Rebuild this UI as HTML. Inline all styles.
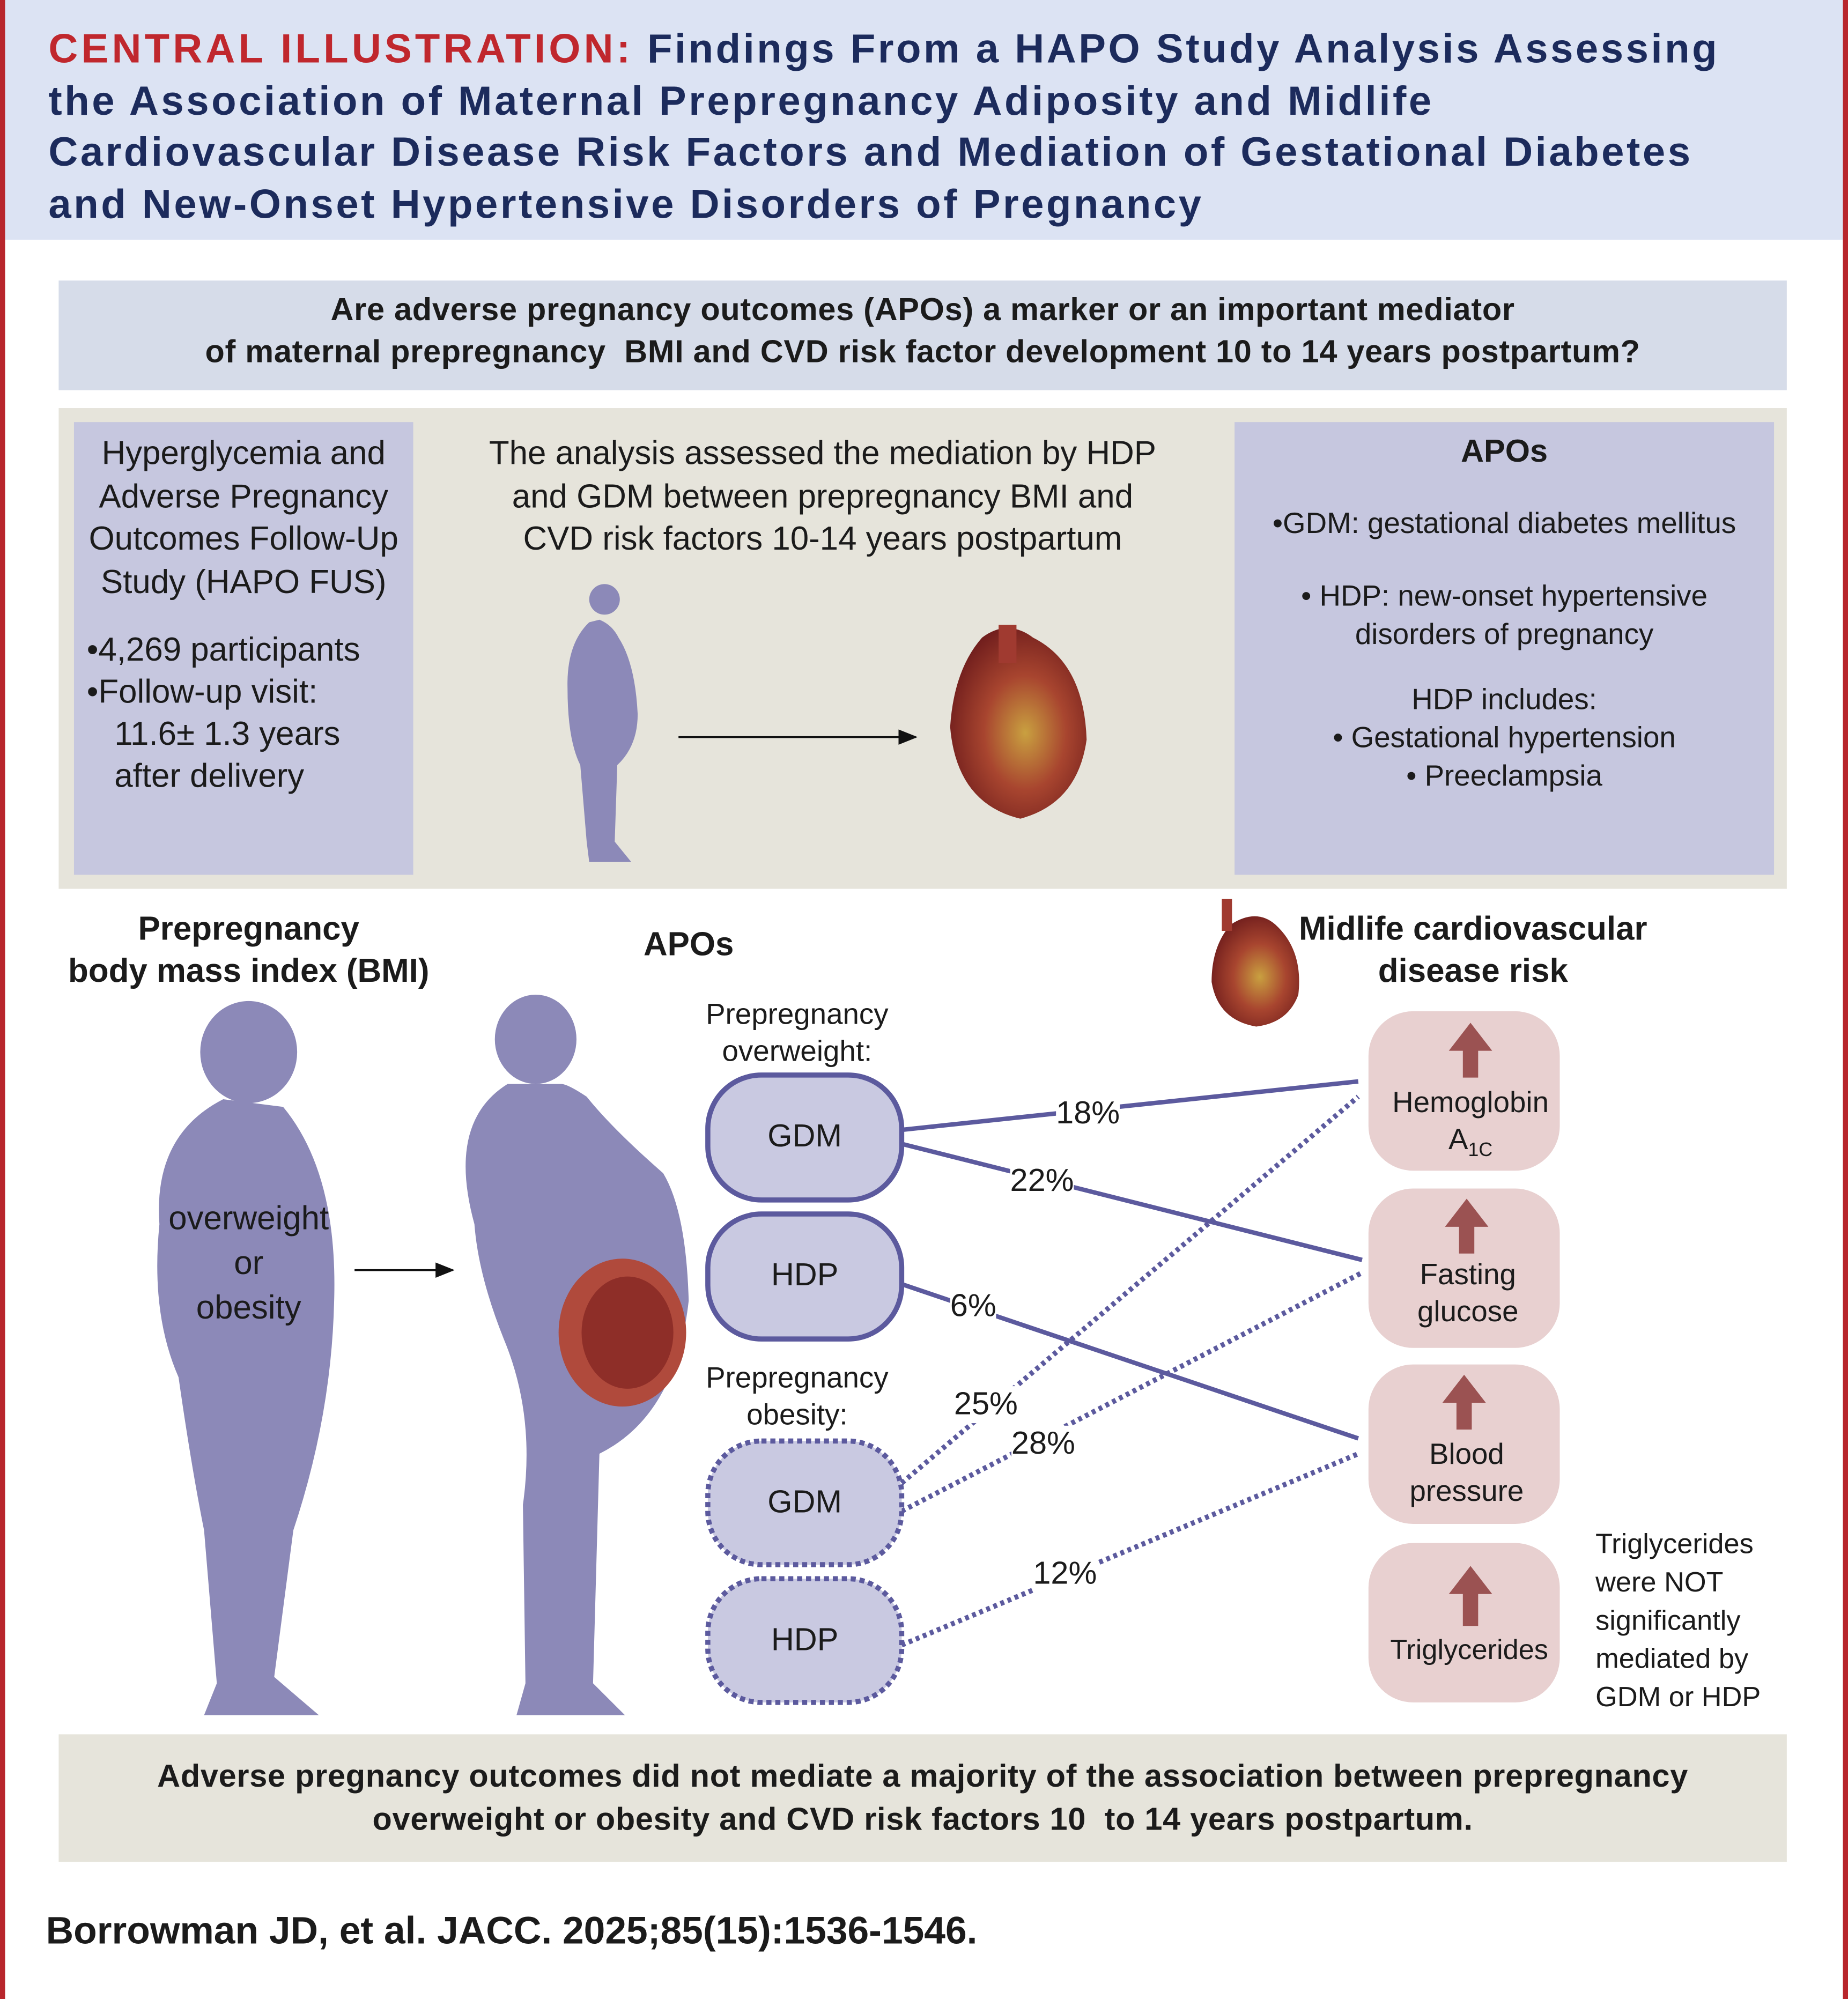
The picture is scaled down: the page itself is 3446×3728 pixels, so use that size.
<!DOCTYPE html>
<html><head><meta charset="utf-8"><style>
html,body{margin:0;padding:0;background:#fff;}
#wrap{width:3446px;height:3728px;overflow:hidden;position:relative;}
#c{position:absolute;left:0;top:0;width:1449px;height:1568px;transform:scale(2.3782);transform-origin:0 0;font-family:"Liberation Sans",sans-serif;color:#1b1b1b;}
.a{position:absolute;}
.t{position:absolute;text-align:center;}
</style></head><body><div id="wrap"><div id="c">
<div class="a" style="left:0;top:0;width:1449px;height:1568px;box-sizing:border-box;border-left:4px solid #b8262c;border-right:4px solid #b8262c;"></div>
<div class="a" style="left:4px;top:0;width:1441px;height:188px;background:#dce3f3;"></div>
<div class="a" style="left:38px;top:18px;width:1420px;white-space:nowrap;font-weight:bold;font-size:32px;line-height:40.5px;color:#1c2b5c;letter-spacing:1.9px;"><span style="color:#c0272d;letter-spacing:2.6px">CENTRAL ILLUSTRATION:</span> Findings From a HAPO Study Analysis Assessing<br>the Association of Maternal Prepregnancy Adiposity and Midlife<br>Cardiovascular Disease Risk Factors and Mediation of Gestational Diabetes<br>and New-Onset Hypertensive Disorders of Pregnancy</div>

<div class="a" style="left:46px;top:220px;width:1355px;height:86px;background:#d6dce9;"></div>
<div class="t" style="left:46px;top:227px;width:1355px;font-size:25px;font-weight:bold;line-height:33px;letter-spacing:0.3px;">Are adverse pregnancy outcomes (APOs) a marker or an important mediator<br>of maternal prepregnancy&nbsp; BMI and CVD risk factor development 10 to 14 years postpartum?</div>

<div class="a" style="left:46px;top:320px;width:1355px;height:377px;background:#e6e4db;"></div>
<div class="a" style="left:58px;top:331px;width:266px;height:355px;background:#c6c7df;"></div>
<div class="t" style="left:58px;top:339px;width:266px;font-size:26px;line-height:33.5px;">Hyperglycemia and Adverse Pregnancy Outcomes Follow-Up Study (HAPO FUS)</div>
<div class="a" style="left:68px;top:493px;width:256px;font-size:26px;line-height:33px;">•4,269 participants<br>•Follow-up visit:<br>&nbsp;&nbsp;&nbsp;11.6± 1.3 years<br>&nbsp;&nbsp;&nbsp;after delivery</div>
<div class="t" style="left:340px;top:339px;width:610px;font-size:26px;line-height:33.5px;">The analysis assessed the mediation by HDP<br>and GDM between prepregnancy BMI and<br>CVD risk factors 10-14 years postpartum</div>
<div class="a" style="left:968px;top:331px;width:423px;height:355px;background:#c6c7df;"></div>
<div class="t" style="left:968px;top:340px;width:423px;font-size:25px;font-weight:bold;">APOs</div>
<div class="t" style="left:968px;top:395px;width:423px;font-size:23px;line-height:30px;">•GDM: gestational diabetes mellitus</div>
<div class="t" style="left:968px;top:452px;width:423px;font-size:23px;line-height:30px;">• HDP: new-onset hypertensive<br>disorders of pregnancy</div>
<div class="t" style="left:968px;top:533px;width:423px;font-size:23px;line-height:30px;">HDP includes:<br>• Gestational hypertension<br>• Preeclampsia</div>

<svg class="a" style="left:0;top:0" width="1449" height="1568">
<defs>
<radialGradient id="h" cx="0.55" cy="0.55" r="0.6"><stop offset="0" stop-color="#c9a040"/><stop offset="0.5" stop-color="#a8452f"/><stop offset="1" stop-color="#6e1c1c"/></radialGradient>
<marker id="ar" markerWidth="10" markerHeight="8" refX="9" refY="4" orient="auto"><path d="M0,0 L10,4 L0,8z" fill="#111"/></marker>
</defs>
<g fill="#8c89b8">
<circle cx="474" cy="470" r="12"/>
<path d="M462,488 Q444,505 445,540 Q445,580 455,600 L460,660 L462,676 L495,676 L482,660 L484,600 Q500,585 500,560 Q498,520 485,500 Q480,490 470,486z"/>
</g>
<line x1="532" y1="578" x2="718" y2="578" stroke="#111" stroke-width="1.5" marker-end="url(#ar)"/>
<path d="M770,500 Q790,485 810,500 Q850,520 852,580 Q845,630 800,642 Q750,630 745,570 Q748,525 770,500z" fill="url(#h)"/>
<rect x="783" y="490" width="14" height="30" fill="#a03a30"/>
<g fill="#8c89b8">
<ellipse cx="195" cy="825" rx="38" ry="40"/>
<path d="M175,862 Q120,890 125,960 Q118,1030 140,1080 Q150,1150 160,1200 L170,1320 L160,1345 L250,1345 L215,1315 L230,1200 Q260,1110 262,1020 Q265,920 222,868z"/>
<ellipse cx="420" cy="815" rx="32" ry="35"/>
<path d="M398,850 Q350,880 372,960 Q375,1000 395,1050 Q420,1110 410,1180 L412,1320 L405,1345 L490,1345 L465,1320 L470,1140 Q530,1110 540,1020 Q538,950 520,920 Q480,885 460,860 Q445,850 440,850z"/>
</g>
<ellipse cx="488" cy="1045" rx="50" ry="58" fill="#b04a3c"/>
<ellipse cx="492" cy="1045" rx="36" ry="44" fill="#8e2e28"/>
<line x1="278" y1="996" x2="355" y2="996" stroke="#111" stroke-width="1.5" marker-end="url(#ar)"/>
<path d="M965,725 Q985,712 1000,725 Q1022,745 1018,780 Q1010,802 985,805 Q955,800 950,770 Q950,742 965,725z" fill="url(#h)"/>
<rect x="958" y="705" width="8" height="25" fill="#a03a30"/>
<g stroke="#5c5a9e" stroke-width="3.5" fill="none">
<line x1="707" y1="886" x2="1065" y2="848"/>
<line x1="707" y1="897" x2="1068" y2="988"/>
<line x1="707" y1="1007" x2="1065" y2="1128"/>
</g>
<g stroke="#5c5a9e" stroke-width="4" fill="none" stroke-dasharray="3,3">
<line x1="707" y1="1163" x2="1065" y2="860"/>
<line x1="707" y1="1185" x2="1068" y2="998"/>
<line x1="707" y1="1290" x2="1065" y2="1140"/>
</g>
<g fill="#c9c9e1" stroke="#5c5a9e" stroke-width="4">
<rect x="555" y="843" width="152" height="98" rx="42"/>
<rect x="555" y="952" width="152" height="98" rx="42"/>
</g>
<g fill="#c9c9e1" stroke="#5c5a9e" stroke-width="4" stroke-dasharray="4,3">
<rect x="555" y="1130" width="152" height="97" rx="42"/>
<rect x="555" y="1238" width="152" height="97" rx="42"/>
</g>
<g fill="#e8d0d0">
<rect x="1073" y="793" width="150" height="125" rx="35"/>
<rect x="1073" y="932" width="150" height="125" rx="35"/>
<rect x="1073" y="1070" width="150" height="125" rx="35"/>
<rect x="1073" y="1210" width="150" height="125" rx="35"/>
</g>
<g fill="#9b5252">
<path d="M1153,802 L1170,824 L1159,824 L1159,845 L1147,845 L1147,824 L1136,824z"/>
<path d="M1150,940 L1167,962 L1156,962 L1156,983 L1144,983 L1144,962 L1133,962z"/>
<path d="M1148,1078 L1165,1100 L1154,1100 L1154,1121 L1142,1121 L1142,1100 L1131,1100z"/>
<path d="M1153,1228 L1170,1250 L1159,1250 L1159,1275 L1147,1275 L1147,1250 L1136,1250z"/>
</g>
</svg>

<div class="t" style="left:40px;top:712px;width:310px;font-size:26px;font-weight:bold;line-height:33px;">Prepregnancy<br>body mass index (BMI)</div>
<div class="t" style="left:470px;top:725px;width:140px;font-size:26px;font-weight:bold;">APOs</div>
<div class="t" style="left:1000px;top:712px;width:310px;font-size:26px;font-weight:bold;line-height:33px;">Midlife cardiovascular<br>disease risk</div>
<div class="t" style="left:110px;top:938px;width:170px;font-size:26px;line-height:35px;">overweight<br>or<br>obesity</div>
<div class="t" style="left:530px;top:781px;width:190px;font-size:23px;line-height:29px;">Prepregnancy<br>overweight:</div>
<div class="t" style="left:530px;top:1066px;width:190px;font-size:23px;line-height:29px;">Prepregnancy<br>obesity:</div>
<div class="t" style="left:555px;top:877px;width:152px;font-size:25px;">GDM</div>
<div class="t" style="left:555px;top:986px;width:152px;font-size:25px;">HDP</div>
<div class="t" style="left:555px;top:1164px;width:152px;font-size:25px;">GDM</div>
<div class="t" style="left:555px;top:1272px;width:152px;font-size:25px;">HDP</div>
<div class="a" style="left:828px;top:859px;font-size:25px;background:#fff;">18%</div>
<div class="a" style="left:792px;top:912px;font-size:25px;background:#fff;">22%</div>
<div class="a" style="left:745px;top:1010px;font-size:25px;background:#fff;">6%</div>
<div class="a" style="left:748px;top:1087px;font-size:25px;background:#fff;">25%</div>
<div class="a" style="left:793px;top:1118px;font-size:25px;background:#fff;">28%</div>
<div class="a" style="left:810px;top:1220px;font-size:25px;background:#fff;">12%</div>
<div class="t" style="left:1073px;top:850px;width:160px;font-size:23px;line-height:29px;">Hemoglobin<br>A<sub style="font-size:15px">1C</sub></div>
<div class="t" style="left:1073px;top:985px;width:156px;font-size:23px;line-height:29px;">Fasting<br>glucose</div>
<div class="t" style="left:1073px;top:1126px;width:154px;font-size:23px;line-height:29px;">Blood<br>pressure</div>
<div class="t" style="left:1073px;top:1281px;width:158px;font-size:22px;">Triglycerides</div>
<div class="a" style="left:1251px;top:1196px;font-size:22px;line-height:30px;">Triglycerides<br>were NOT<br>significantly<br>mediated by<br>GDM or HDP</div>

<div class="a" style="left:46px;top:1360px;width:1355px;height:100px;background:#e6e4db;"></div>
<div class="t" style="left:46px;top:1376px;width:1355px;font-size:25px;font-weight:bold;line-height:34px;letter-spacing:0.3px;">Adverse pregnancy outcomes did not mediate a majority of the association between prepregnancy<br>overweight or obesity and CVD risk factors 10&nbsp; to 14 years postpartum.</div>
<div class="a" style="left:36px;top:1498px;font-size:30px;font-weight:bold;">Borrowman JD, et al. JACC. 2025;85(15):1536-1546.</div>
</div></div></body></html>
